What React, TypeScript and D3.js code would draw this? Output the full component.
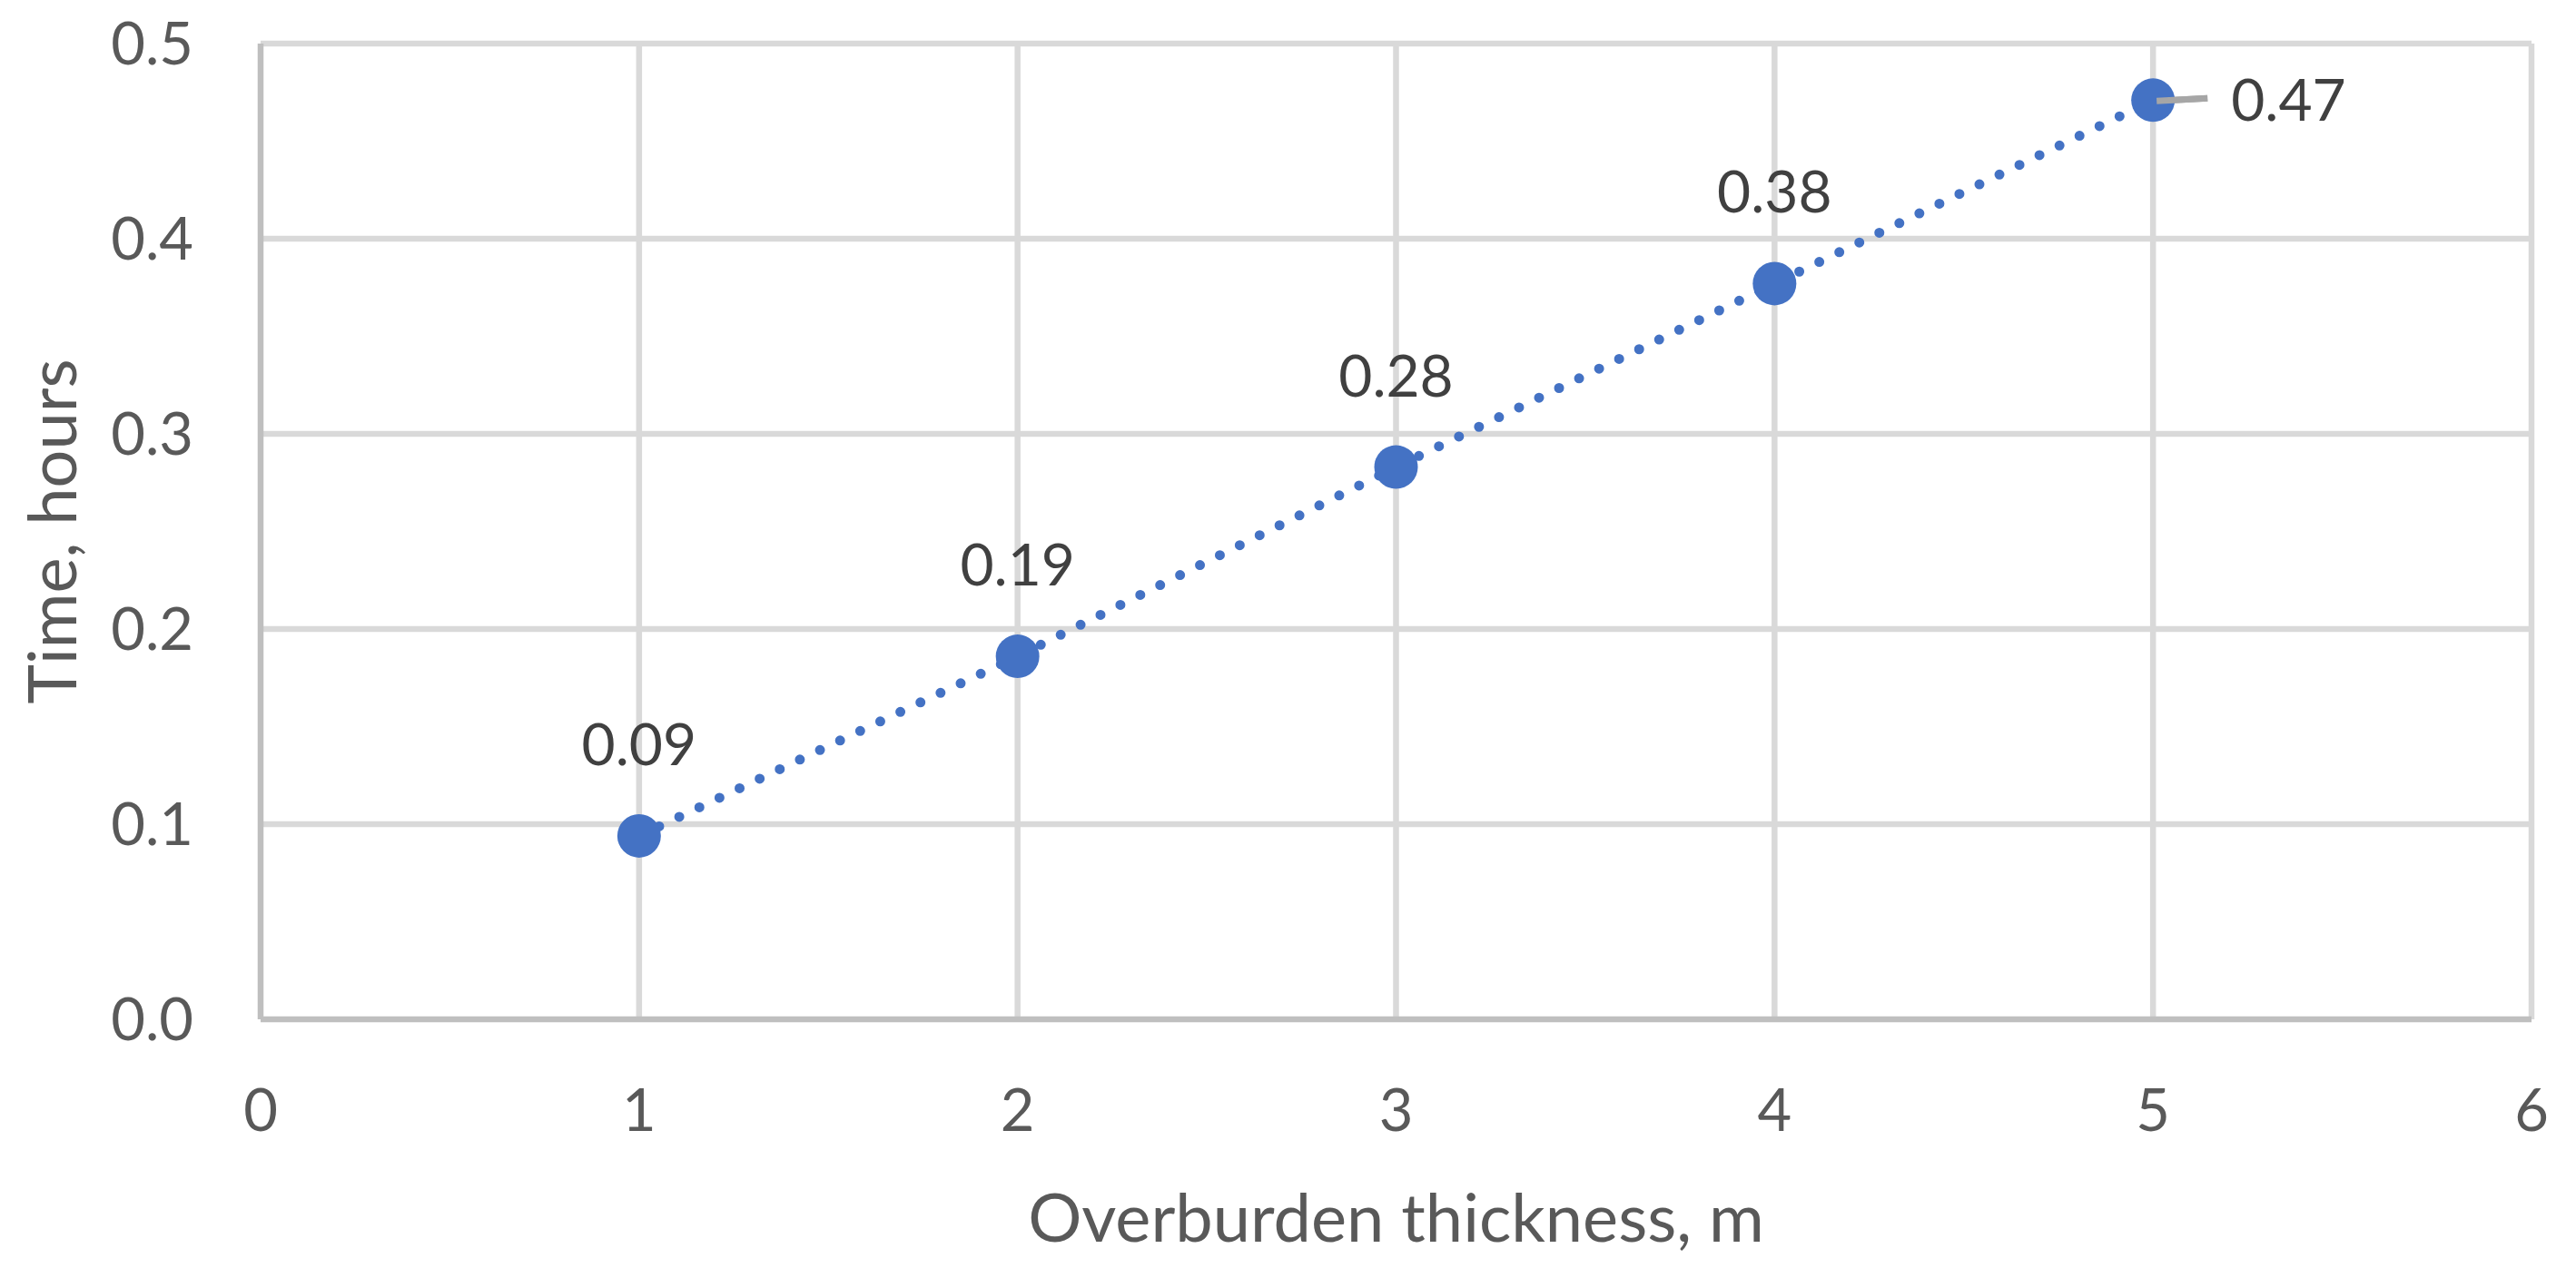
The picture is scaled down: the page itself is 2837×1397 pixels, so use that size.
import React, { useRef, useEffect } from "react";
import * as d3 from "d3";

// values
const thickness = [1, 2, 3, 4, 5];
const timeHours = [0.094, 0.186, 0.283, 0.377, 0.471];
const xTicks = [0, 1, 2, 3, 4, 5, 6];
const yTicks = [0, 0.1, 0.2, 0.3, 0.4, 0.5];
const xTitle = "Overburden thickness, m";
const yTitle = "Time, hours";

const W = 2837;
const H = 1397;
const margin = { left: 287, right: 49, top: 48, bottom: 274 };
const FONT = "Lato, 'Open Sans', sans-serif";

const App = () => {
  const svgRef = useRef<SVGSVGElement>(null);

  useEffect(() => {
    const width = W - margin.left - margin.right;
    const height = H - margin.top - margin.bottom;
    const xScale = d3.scaleLinear().domain([0, 6]).range([0, width]);
    const yScale = d3.scaleLinear().domain([0, 0.5]).range([height, 0]);

    const svgEl = d3.select(svgRef.current);
    svgEl.selectAll("*").remove();
    const svg = svgEl
      .append("g")
      .attr("transform", `translate(${margin.left},${margin.top})`);

    // grid lines
    svg
      .append("g")
      .selectAll("line")
      .data(yTicks.filter((t) => t > 0))
      .enter()
      .append("line")
      .attr("x1", 0)
      .attr("x2", width)
      .attr("y1", (d) => yScale(d))
      .attr("y2", (d) => yScale(d))
      .attr("stroke", "#d9d9d9")
      .attr("stroke-width", 6.5);
    svg
      .append("g")
      .selectAll("line")
      .data(xTicks.filter((t) => t > 0))
      .enter()
      .append("line")
      .attr("x1", (d) => xScale(d))
      .attr("x2", (d) => xScale(d))
      .attr("y1", 0)
      .attr("y2", height)
      .attr("stroke", "#d9d9d9")
      .attr("stroke-width", 6.5);

    // axis lines
    svg
      .append("line")
      .attr("x1", 0)
      .attr("x2", 0)
      .attr("y1", 0)
      .attr("y2", height)
      .attr("stroke", "#bfbfbf")
      .attr("stroke-width", 6.5);
    svg
      .append("line")
      .attr("x1", 0)
      .attr("x2", width)
      .attr("y1", height)
      .attr("y2", height)
      .attr("stroke", "#bfbfbf")
      .attr("stroke-width", 6.5);

    // tick labels
    svg
      .append("g")
      .selectAll("text")
      .data(yTicks)
      .enter()
      .append("text")
      .attr("x", -74)
      .attr("y", (d) => yScale(d))
      .attr("dy", "0.35em")
      .attr("text-anchor", "end")
      .attr("font-family", FONT)
      .attr("font-size", 65)
      .attr("fill", "#595959")
      .text((d) => d3.format(".1f")(d));
    svg
      .append("g")
      .selectAll("text")
      .data(xTicks)
      .enter()
      .append("text")
      .attr("x", (d) => xScale(d))
      .attr("y", height + 100)
      .attr("dy", "0.35em")
      .attr("text-anchor", "middle")
      .attr("font-family", FONT)
      .attr("font-size", 65)
      .attr("fill", "#595959")
      .text((d) => `${d}`);

    // axis titles
    svg
      .append("text")
      .attr("x", width / 2)
      .attr("y", H - margin.top - 55)
      .attr("dy", "0.35em")
      .attr("text-anchor", "middle")
      .attr("font-family", FONT)
      .attr("font-size", 74)
      .attr("fill", "#595959")
      .text(xTitle);
    svg
      .append("text")
      .attr("transform", `translate(${58 - margin.left},${height / 2}) rotate(-90)`)
      .attr("dy", "0.35em")
      .attr("text-anchor", "middle")
      .attr("font-family", FONT)
      .attr("font-size", 74)
      .attr("fill", "#595959")
      .text(yTitle);

    const points = thickness.map((x, i) => ({ x, y: timeHours[i] }));

    // dotted line
    const line = d3
      .line<{ x: number; y: number }>()
      .x((d) => xScale(d.x))
      .y((d) => yScale(d.y));
    svg
      .append("path")
      .attr("d", line(points))
      .attr("fill", "none")
      .attr("stroke", "#4472c4")
      .attr("stroke-width", 11)
      .attr("stroke-linecap", "round")
      .attr("stroke-dasharray", "0 24.5");

    // leader line for last label
    const last = points[points.length - 1];
    svg
      .append("line")
      .attr("x1", xScale(last.x) + 4)
      .attr("y1", yScale(last.y) + 1)
      .attr("x2", xScale(last.x) + 60)
      .attr("y2", yScale(last.y) - 2)
      .attr("stroke", "#a6a6a6")
      .attr("stroke-width", 7);

    // markers
    svg
      .append("g")
      .selectAll("circle")
      .data(points)
      .enter()
      .append("circle")
      .attr("cx", (d) => xScale(d.x))
      .attr("cy", (d) => yScale(d.y))
      .attr("r", 24)
      .attr("fill", "#4472c4");
    // redraw leader on top of marker
    svg
      .append("line")
      .attr("x1", xScale(last.x) + 4)
      .attr("y1", yScale(last.y) + 1)
      .attr("x2", xScale(last.x) + 60)
      .attr("y2", yScale(last.y) - 2)
      .attr("stroke", "#a6a6a6")
      .attr("stroke-width", 7);

    // data labels
    svg
      .append("g")
      .selectAll("text")
      .data(points)
      .enter()
      .append("text")
      .attr("x", (d, i) => (i === points.length - 1 ? xScale(d.x) + 86 : xScale(d.x)))
      .attr("y", (d, i) => (i === points.length - 1 ? yScale(d.y) : yScale(d.y) - 78))
      .attr("dy", (d, i) => (i === points.length - 1 ? "0.35em" : "0"))
      .attr("text-anchor", (d, i) => (i === points.length - 1 ? "start" : "middle"))
      .attr("font-family", FONT)
      .attr("font-size", 64)
      .attr("fill", "#404040")
      .text((d) => d3.format(".2f")(d.y));
  }, []);

  return (
    <svg
      ref={svgRef}
      width={W}
      height={H}
      style={{ position: "absolute", left: 0, top: 0, background: "#fff" }}
    />
  );
};

export default App;
